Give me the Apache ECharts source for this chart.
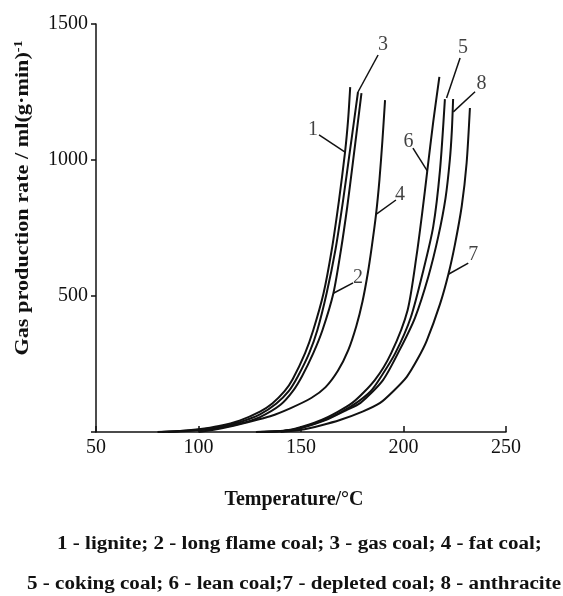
<!DOCTYPE html>
<html>
<head>
<meta charset="utf-8">
<script src="https://cdn.jsdelivr.net/npm/echarts@6/dist/echarts.min.js"></script>
<style>
  html, body { margin: 0; background: #fff; }
  #chart { width: 563px; height: 596px; }
</style>
</head>
<body>
<div id="chart"></div>
<script>
// [temperature °C, gas production rate]
const lignite = [[80,0],[90,3],[100,10],[110,22],[120,42],[130,75],[136,105],[142,150],[146,195],[152,290],[156,375],[161,510],[165,670],[168.5,850],[171.5,1030],[173,1150],[174,1268]];
const longFlame = [[85,0],[100,6],[110,15],[120,30],[130,55],[140,100],[146,150],[150.5,205],[156,290],[160.5,375],[165.8,510],[169.5,670],[172.6,830],[175.3,990],[177.6,1130],[179.5,1246]];
const gasCoal = [[82,0],[100,8],[110,18],[120,36],[130,65],[138,105],[144,150],[148.5,205],[154,290],[158,375],[162.5,510],[166.8,670],[170.5,850],[173.8,1030],[176,1150],[177.8,1250]];
const fatCoal = [[100,0],[112,15],[125,38],[135,58],[145,88],[155,125],[162,165],[168,225],[173,300],[177,390],[180,480],[182.5,580],[184.5,680],[186.6,800],[188.3,930],[189.7,1070],[191,1220]];
const cokingCoal = [[130,0],[145,7],[160,40],[170,75],[177,107],[184,150],[188,191],[196,290],[203.5,420],[209.7,595],[214.5,755],[217.8,963],[220.2,1224]];
const leanCoal = [[128,0],[144,7],[160,44],[175,107],[186,191],[194,290],[202,448],[206.4,650],[209.2,810],[211.6,960],[214.5,1140],[217.5,1306]];
const depletedCoal = [[140,0],[150,8],[160,25],[169,44],[180,75],[188.6,107],[195,150],[201.6,203],[207,270],[211.3,335],[217.8,470],[221.9,580],[225.1,690],[228.4,830],[230.8,990],[232.4,1191]];
const anthracite = [[132,0],[146,7],[162,44],[172,80],[179,107],[190,191],[198,300],[205.6,420],[212.1,571],[217,720],[220.5,860],[222.6,1000],[223.6,1110],[224.2,1224]];

const curves = [lignite, longFlame, gasCoal, fatCoal, cokingCoal, leanCoal, depletedCoal, anthracite];
const curveNames = ['lignite', 'long flame coal', 'gas coal', 'fat coal', 'coking coal', 'lean coal', 'depleted coal', 'anthracite'];

// curve number labels: text position, leader start, leader end on curve
const tagText = ['1', '2', '3', '4', '5', '6', '7', '8'];
const tagPos = [[155.9,1110],[177.8,566],[190,1422],[198.3,871],[229,1412],[202.4,1067],[234,651],[238.1,1282]];
const leaderFrom = [[158.8,1092],[175.4,548],[187.6,1386],[196.3,853],[227.6,1375],[204.6,1044],[231.6,621],[234.9,1251]];
const leaderTo = [[171.5,1029],[165.8,510],[177.8,1250],[186.6,800],[221,1228],[211.6,960],[221.9,580],[224.3,1177]];

const xTicks = [50, 250, 50];     // min, max, interval
const yTicks = [0, 1500, 500];

const legendLines = [
  '1 - lignite; 2 - long flame coal; 3 - gas coal; 4 - fat coal;',
  '5 - coking coal; 6 - lean coal;7 - depleted coal; 8 - anthracite'
];

const serif = '"Liberation Serif", "Times New Roman", serif';
const ink = '#111';
const wide = 1.17; // source font runs wider than Liberation Serif

const chart = echarts.init(document.getElementById('chart'), null, { renderer: 'canvas' });

const series = curves.map((c, i) => ({
  type: 'line',
  name: curveNames[i],
  data: c,
  smooth: 0.25,
  symbol: 'none',
  lineStyle: { color: ink, width: 2 },
  silent: true,
  z: 2
}));

series.push({
  type: 'lines',
  coordinateSystem: 'cartesian2d',
  silent: true,
  lineStyle: { color: ink, width: 1.5, opacity: 1 },
  data: leaderFrom.map((p, i) => ({ coords: [p, leaderTo[i]] })),
  z: 3
});

series.push({
  type: 'scatter',
  symbolSize: 0,
  silent: true,
  data: tagPos.map((p, i) => [p[0], p[1], tagText[i]]),
  label: {
    show: true,
    position: 'inside',
    formatter: p => p.value[2],
    color: ink,
    fontFamily: serif,
    fontSize: 20
  },
  z: 4
});

const graphics = legendLines.map((t, i) => ({
  type: 'text',
  x: 57 - i * 30,
  y: 535 + i * 40,
  scaleX: wide,
  style: { text: t, fontFamily: serif, fontWeight: 'bold', fontSize: 18, fill: ink, align: 'left', verticalAlign: 'top' }
}));

// y axis title, rotated and stretched like the source
graphics.push({
  type: 'text',
  x: 23,
  y: 198,
  rotation: Math.PI / 2,
  scaleX: wide,
  style: {
    text: '{a|Gas production rate / ml(g·min)}{s|-1}',
    align: 'center',
    verticalAlign: 'middle',
    rich: {
      a: { fontFamily: serif, fontWeight: 'bold', fontSize: 19, fill: ink, color: ink },
      s: { fontFamily: serif, fontWeight: 'bold', fontSize: 12, fill: ink, color: ink, verticalAlign: 'top', padding: [0, 0, 8, 0] }
    }
  }
});

const option = {
  backgroundColor: '#fff',
  animation: false,
  grid: { left: 96, right: 57, top: 24, bottom: 164 },
  xAxis: {
    type: 'value',
    min: xTicks[0],
    max: xTicks[1],
    interval: xTicks[2],
    name: 'Temperature/°C',
    nameLocation: 'middle',
    nameGap: 58,
    nameTextStyle: { fontFamily: serif, fontWeight: 'bold', fontSize: 20, color: ink, padding: [0, 14, 0, 0] },
    axisLine: { onZero: false, lineStyle: { color: ink, width: 1.5 } },
    axisTick: { inside: true, length: 6, lineStyle: { color: ink, width: 1.5 } },
    axisLabel: { fontFamily: serif, fontSize: 20, color: ink, margin: 6 },
    splitLine: { show: false }
  },
  yAxis: {
    type: 'value',
    min: yTicks[0],
    max: yTicks[1],
    interval: yTicks[2],
    axisLine: { show: true, lineStyle: { color: ink, width: 1.5 } },
    axisTick: { show: true, length: 5, lineStyle: { color: ink, width: 1.5 } },
    axisLabel: {
      fontFamily: serif, fontSize: 20, color: ink, margin: 8,
      formatter: v => (v === 0 ? '' : v)
    },
    splitLine: { show: false }
  },
  graphic: graphics,
  series: series
};

chart.setOption(option);
</script>
</body>
</html>
